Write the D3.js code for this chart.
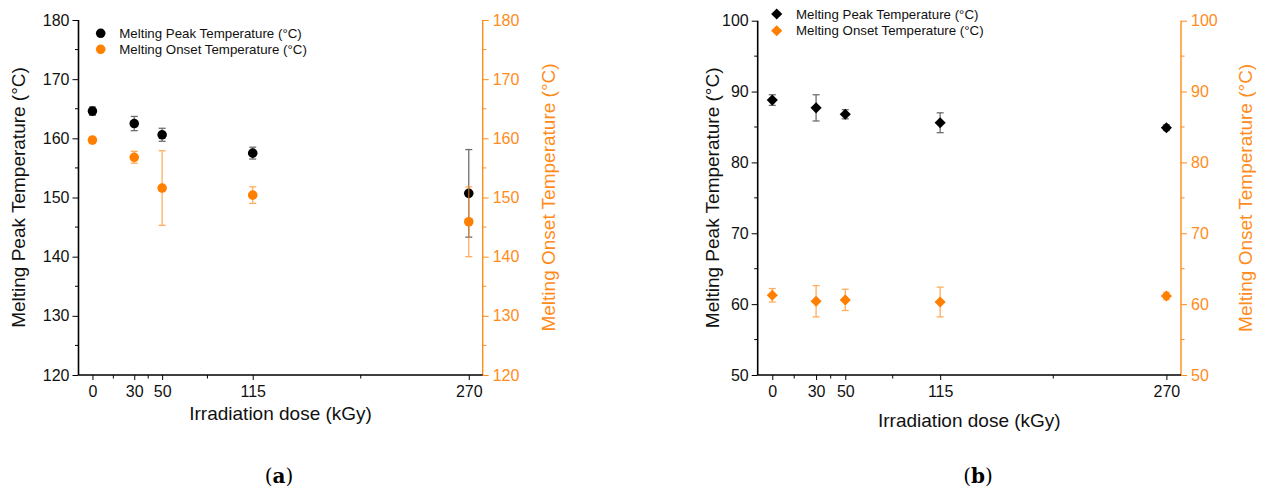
<!DOCTYPE html>
<html><head><meta charset="utf-8">
<script src="https://cdn.jsdelivr.net/npm/d3@7"></script>
<style>body{margin:0;background:#fff}svg{display:block}text{font-family:"Liberation Sans",Arial,sans-serif}text.cap{font-family:"DejaVu Serif","Liberation Serif",serif}</style>
</head><body>
<svg id="c" width="1261" height="488"></svg>
<script>
// ---- data ----
const doses = [0, 30, 50, 115, 270];
const doseTicks = [0, 30, 50, 115, 270];
const doseMinorTicks = [15, 40, 82.5, 192.5];

// panel (a)
const peakA = [164.6, 162.5, 160.6, 157.5, 150.7];
const peakAErr = [0.7, 1.2, 1.1, 1.0, 7.4];
const onsetA = [159.7, 156.8, 151.6, 150.4, 145.9];
const onsetAErr = [0.5, 1.0, 6.3, 1.4, 5.9];
const yTicksA = [120, 130, 140, 150, 160, 170, 180];

// panel (b)
const peakB = [88.8, 87.7, 86.8, 85.6, 84.9];
const peakBErr = [0.75, 1.85, 0.65, 1.4, 0.4];
const onsetB = [61.25, 60.4, 60.6, 60.3, 61.15];
const onsetBErr = [0.95, 2.2, 1.5, 2.1, 0.5];
const yTicksB = [50, 60, 70, 80, 90, 100];

const seriesNames = ["Melting Peak Temperature (°C)", "Melting Onset Temperature (°C)"];
const xTitle = "Irradiation dose (kGy)";
const yLeftTitle = "Melting Peak Temperature (°C)";
const yRightTitle = "Melting Onset Temperature (°C)";

const ORANGE = "#ff7f00";
const AXOR = "#ff8c1a";
const svg = d3.select("#c");

function panel(cfg) {
  const g = svg.append("g");
  const x = d3.scaleLinear().domain([-10, 280]).range([cfg.x0, cfg.x1]);
  const y = d3.scaleLinear().domain(cfg.yDom).range([cfg.yb, cfg.yt]);
  const yMinor = [];
  for (let i = 0; i < cfg.yTicks.length - 1; i++) yMinor.push((cfg.yTicks[i] + cfg.yTicks[i + 1]) / 2);

  // left axis
  const la = g.append("g").attr("transform", `translate(${cfg.x0},0)`)
    .call(d3.axisLeft(y).tickValues(cfg.yTicks).tickSize(6).tickPadding(3).tickFormat(d3.format("d")));
  la.select(".domain").attr("stroke", "#000").attr("stroke-width", 1.6).attr("d", `M0,${cfg.yt}V${cfg.yb}`);
  la.selectAll(".tick line").attr("stroke", "#000").attr("stroke-width", 1);
  la.selectAll(".tick text").attr("font-size", 16).attr("fill", "#111");
  g.append("g").attr("transform", `translate(${cfg.x0},0)`).selectAll("line").data(yMinor).join("line")
    .attr("x1", -3.5).attr("x2", 0).attr("y1", d => y(d)).attr("y2", d => y(d)).attr("stroke", "#000");

  // right axis
  const ra = g.append("g").attr("transform", `translate(${cfg.x1},0)`)
    .call(d3.axisRight(y).tickValues(cfg.yTicks).tickSize(6).tickPadding(4).tickFormat(d3.format("d")));
  ra.select(".domain").attr("stroke", AXOR).attr("stroke-width", 1.4).attr("d", `M0,${cfg.yt}V${cfg.yb}`);
  ra.selectAll(".tick line").attr("stroke", AXOR);
  ra.selectAll(".tick text").attr("font-size", 16).attr("fill", AXOR);
  g.append("g").attr("transform", `translate(${cfg.x1},0)`).selectAll("line").data(yMinor).join("line")
    .attr("x1", 0).attr("x2", 3.5).attr("y1", d => y(d)).attr("y2", d => y(d)).attr("stroke", AXOR);

  // bottom axis
  const ba = g.append("g").attr("transform", `translate(0,${cfg.yb})`)
    .call(d3.axisBottom(x).tickValues(doseTicks).tickSize(5).tickPadding(6).tickFormat(d3.format("d")));
  ba.select(".domain").attr("stroke", "#000").attr("stroke-width", 1.6).attr("d", `M${cfg.x0},0H${cfg.x1}`);
  ba.selectAll(".tick line").attr("stroke", "#000");
  ba.selectAll(".tick text").attr("font-size", 16).attr("fill", "#111");
  g.append("g").attr("transform", `translate(0,${cfg.yb})`).selectAll("line").data(doseMinorTicks).join("line")
    .attr("x1", d => x(d)).attr("x2", d => x(d)).attr("y1", 0).attr("y2", 3.5).attr("stroke", "#000");

  // titles
  g.append("text").attr("x", (cfg.x0 + cfg.x1) / 2 + cfg.xtOff).attr("y", cfg.xtY).attr("text-anchor", "middle")
    .attr("font-size", 19).attr("fill", "#111").text(xTitle);
  g.append("text").attr("transform", `translate(${cfg.ylX},${(cfg.yt + cfg.yb) / 2}) rotate(-90)`)
    .attr("text-anchor", "middle").attr("dominant-baseline", "central").attr("font-size", 19).attr("fill", "#111").text(yLeftTitle);
  g.append("text").attr("transform", `translate(${cfg.yrX},${(cfg.yt + cfg.yb) / 2}) rotate(-90)`)
    .attr("text-anchor", "middle").attr("dominant-baseline", "central").attr("font-size", 19).attr("fill", AXOR).text(yRightTitle);

  // caption
  g.append("text").attr("class", "cap").attr("x", cfg.capX).attr("y", 483).attr("text-anchor", "middle")
    .attr("font-size", 20).attr("fill", "#000")
    .html(`(<tspan font-weight="bold">${cfg.cap}</tspan>)`);

  const sym = cfg.diamond
    ? d3.symbol().type(d3.symbolSquare).size(62)
    : d3.symbol().type(d3.symbolCircle).size(72);
  const rot = cfg.diamond ? " rotate(45)" : "";

  function series(vals, errs, fill, errColor) {
    const data = doses.map((d, i) => ({ d, v: vals[i], e: errs[i] }));
    const eg = g.append("g").attr("stroke", errColor).attr("stroke-width", 1.3).attr("opacity", 0.7);
    eg.selectAll(".v").data(data).join("line").attr("x1", p => x(p.d)).attr("x2", p => x(p.d))
      .attr("y1", p => y(p.v - p.e)).attr("y2", p => y(p.v + p.e));
    eg.selectAll(".t").data(data).join("line").attr("x1", p => x(p.d) - 3.5).attr("x2", p => x(p.d) + 3.5)
      .attr("y1", p => y(p.v + p.e)).attr("y2", p => y(p.v + p.e));
    eg.selectAll(".b").data(data).join("line").attr("x1", p => x(p.d) - 3.5).attr("x2", p => x(p.d) + 3.5)
      .attr("y1", p => y(p.v - p.e)).attr("y2", p => y(p.v - p.e));
    g.append("g").selectAll("path").data(data).join("path").attr("d", sym)
      .attr("transform", p => `translate(${x(p.d)},${y(p.v)})${rot}`).attr("fill", fill);
  }
  series(cfg.peak, cfg.peakErr, "#000", "#333");
  series(cfg.onset, cfg.onsetErr, ORANGE, "#ff8c1a");

  // legend
  const lg = g.append("g");
  [[seriesNames[0], "#000"], [seriesNames[1], ORANGE]].forEach((s, i) => {
    const ly = cfg.legY + i * cfg.legDy;
    lg.append("path").attr("d", sym).attr("transform", `translate(${cfg.legX},${ly})${rot}`).attr("fill", s[1]);
    lg.append("text").attr("x", cfg.legX + cfg.legTx).attr("y", ly).attr("dominant-baseline", "central")
      .attr("font-size", 13.3).attr("fill", "#111").text(s[0]);
  });
}

panel({ x0: 78.5, x1: 482.7, yt: 20, yb: 375, yDom: [120, 180], yTicks: yTicksA,
  peak: peakA, peakErr: peakAErr, onset: onsetA, onsetErr: onsetAErr, diamond: false,
  xtOff: 0, xtY: 420, ylX: 18, yrX: 548, capX: 279, cap: "a",
  legX: 100.7, legY: 33.3, legDy: 16, legTx: 18.6 });

panel({ x0: 757.7, x1: 1181, yt: 20.7, yb: 375, yDom: [50, 100], yTicks: yTicksB,
  peak: peakB, peakErr: peakBErr, onset: onsetB, onsetErr: onsetBErr, diamond: true,
  xtOff: 0, xtY: 427, ylX: 712, yrX: 1245, capX: 978, cap: "b",
  legX: 776.7, legY: 14, legDy: 16.7, legTx: 19.3 });
</script>
</body></html>
